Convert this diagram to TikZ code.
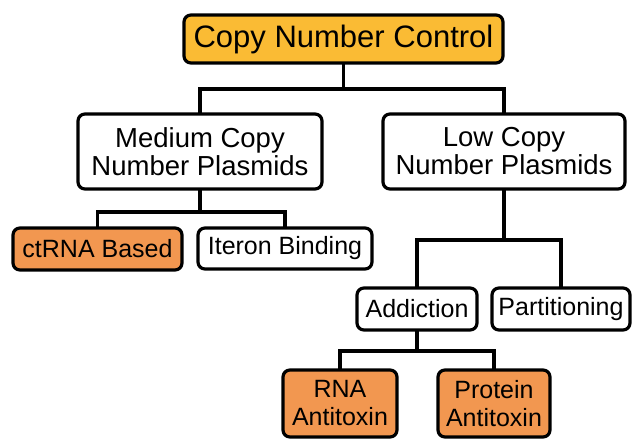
\documentclass[tikz,border=0pt]{standalone}
\usepackage{fontspec}
\setmainfont{Liberation Sans}
\definecolor{topfill}{RGB}{250,187,52}
\definecolor{leaffill}{RGB}{242,151,80}
\begin{document}
\begin{tikzpicture}[x=1pt,y=-1pt,
  box/.style={draw=black, line width=3.2pt, rounded corners=7pt, fill=white,
    inner sep=0pt, align=center, text=black},
  big/.style={font=\fontsize{31}{31}\selectfont},
  mid/.style={font=\fontsize{27.5}{28}\selectfont},
  small/.style={font=\fontsize{25}{28}\selectfont},
  link/.style={line width=3.8pt, line cap=rect, line join=miter}]
\useasboundingbox (0,0) rectangle (632,439);
\node[box, big, fill=topfill, minimum width=319pt, minimum height=48pt] (top) at (343.5,39) {Copy Number Control};
\node[box, mid, minimum width=244pt, minimum height=75pt] (med) at (200,151.5) {Medium Copy\\Number Plasmids};
\node[box, mid, minimum width=242pt, minimum height=75pt] (low) at (504,151.5) {Low Copy\\Number Plasmids};
\node[box, small, fill=leaffill, minimum width=169pt, minimum height=42pt] (ctrna) at (97.5,249) {ctRNA Based};
\node[box, small, minimum width=174pt, minimum height=41pt] (iteron) at (285,248.5) {Iteron Binding};
\node[box, small, minimum width=120pt, minimum height=42pt] (addiction) at (417,309) {Addiction};
\node[box, small, minimum width=138pt, minimum height=42pt] (partition) at (561,309) {Partitioning};
\node[box, small, fill=leaffill, minimum width=114pt, minimum height=67pt] (rna) at (340,403.5) {RNA\\Antitoxin};
\node[box, small, fill=leaffill, minimum width=112pt, minimum height=67pt] (protein) at (494,403.5) {Protein\\Antitoxin};
\begin{scope}[on background layer/.try]
\draw[link] (top.south) -- ++(0,24) coordinate (j1);
\draw[link] (med.north) |- (j1) -| (low.north);
\draw[link] (med.south) -- ++(0,21) coordinate (j2);
\draw[link] (ctrna.north) |- (j2) -| (iteron.north);
\draw[link] (low.south) -- ++(0,49) coordinate (j3);
\draw[link] (addiction.north) |- (j3) -| (partition.north);
\draw[link] (addiction.south) -- ++(0,19) coordinate (j4);
\draw[link] (rna.north) |- (j4) -| (protein.north);
\end{scope}
\end{tikzpicture}
\end{document}
